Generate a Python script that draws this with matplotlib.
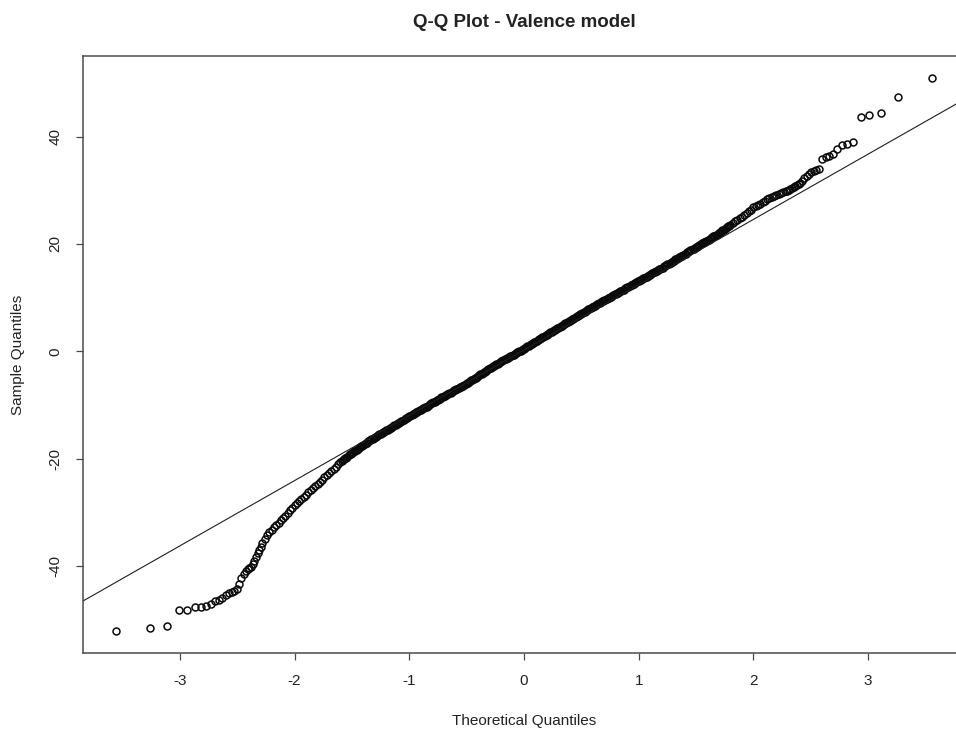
import matplotlib.pyplot as plt

plt.rcParams['font.family'] = ['Liberation Sans', 'DejaVu Sans']
plt.rcParams['axes.unicode_minus'] = False

# lower tail of the residuals (theoretical quantile, sample quantile)
lower_theo = [-3.56, -3.26, -3.11, -3.01, -2.935, -2.87, -2.82, -2.77, -2.73, -2.695,
              -2.66, -2.63, -2.60, -2.576, -2.55, -2.53, -2.505, -2.485, -2.465, -2.445,
              -2.425, -2.41, -2.395, -2.38, -2.365, -2.35, -2.335, -2.32, -2.31, -2.295,
              -2.28, -2.26, -2.24, -2.22, -2.20, -2.18, -2.16, -2.14, -2.12, -2.10,
              -2.08, -2.06, -2.04, -2.02, -2.00, -1.98, -1.96, -1.94, -1.92, -1.90,
              -1.88, -1.86, -1.84, -1.82, -1.80, -1.78, -1.76, -1.74, -1.72, -1.70,
              -1.68, -1.66, -1.64, -1.62]
lower_sample = [-52.1, -51.5, -51.2, -48.1, -48.2, -47.7, -47.6, -47.4, -47.0, -46.6,
                -46.4, -45.9, -45.4, -45.0, -44.8, -44.6, -44.3, -43.3, -42.3, -41.5,
                -41.0, -40.6, -40.4, -40.1, -39.6, -39.0, -38.3, -37.6, -37.0, -36.5,
                -35.8, -35.0, -34.3, -33.7, -33.2, -32.8, -32.3, -31.9, -31.4, -31.0,
                -30.6, -30.1, -29.6, -29.1, -28.7, -28.3, -27.9, -27.5, -27.1, -26.7,
                -26.3, -25.9, -25.5, -25.1, -24.7, -24.3, -23.9, -23.5, -23.1, -22.7,
                -22.3, -21.9, -21.5, -21.0]

# dense central part
middle_theo = [
    -1.60, -1.59, -1.58, -1.57, -1.56, -1.55, -1.54, -1.53, -1.52, -1.51,
    -1.50, -1.49, -1.48, -1.47, -1.46, -1.45, -1.44, -1.43, -1.42, -1.41,
    -1.40, -1.39, -1.38, -1.37, -1.36, -1.35, -1.34, -1.33, -1.32, -1.31,
    -1.30, -1.29, -1.28, -1.27, -1.26, -1.25, -1.24, -1.23, -1.22, -1.21,
    -1.20, -1.19, -1.18, -1.17, -1.16, -1.15, -1.14, -1.13, -1.12, -1.11,
    -1.10, -1.09, -1.08, -1.07, -1.06, -1.05, -1.04, -1.03, -1.02, -1.01,
    -1.00, -0.99, -0.98, -0.97, -0.96, -0.95, -0.94, -0.93, -0.92, -0.91,
    -0.90, -0.89, -0.88, -0.87, -0.86, -0.85, -0.84, -0.83, -0.82, -0.81,
    -0.80, -0.79, -0.78, -0.77, -0.76, -0.75, -0.74, -0.73, -0.72, -0.71,
    -0.70, -0.69, -0.68, -0.67, -0.66, -0.65, -0.64, -0.63, -0.62, -0.61,
    -0.60, -0.59, -0.58, -0.57, -0.56, -0.55, -0.54, -0.53, -0.52, -0.51,
    -0.50, -0.49, -0.48, -0.47, -0.46, -0.45, -0.44, -0.43, -0.42, -0.41,
    -0.40, -0.39, -0.38, -0.37, -0.36, -0.35, -0.34, -0.33, -0.32, -0.31,
    -0.30, -0.29, -0.28, -0.27, -0.26, -0.25, -0.24, -0.23, -0.22, -0.21,
    -0.20, -0.19, -0.18, -0.17, -0.16, -0.15, -0.14, -0.13, -0.12, -0.11,
    -0.10, -0.09, -0.08, -0.07, -0.06, -0.05, -0.04, -0.03, -0.02, -0.01,
    0.00, 0.01, 0.02, 0.03, 0.04, 0.05, 0.06, 0.07, 0.08, 0.09,
    0.10, 0.11, 0.12, 0.13, 0.14, 0.15, 0.16, 0.17, 0.18, 0.19,
    0.20, 0.21, 0.22, 0.23, 0.24, 0.25, 0.26, 0.27, 0.28, 0.29,
    0.30, 0.31, 0.32, 0.33, 0.34, 0.35, 0.36, 0.37, 0.38, 0.39,
    0.40, 0.41, 0.42, 0.43, 0.44, 0.45, 0.46, 0.47, 0.48, 0.49,
    0.50, 0.51, 0.52, 0.53, 0.54, 0.55, 0.56, 0.57, 0.58, 0.59,
    0.60, 0.61, 0.62, 0.63, 0.64, 0.65, 0.66, 0.67, 0.68, 0.69,
    0.70, 0.71, 0.72, 0.73, 0.74, 0.75, 0.76, 0.77, 0.78, 0.79,
    0.80, 0.81, 0.82, 0.83, 0.84, 0.85, 0.86, 0.87, 0.88, 0.89,
    0.90, 0.91, 0.92, 0.93, 0.94, 0.95, 0.96, 0.97, 0.98, 0.99,
    1.00, 1.01, 1.02, 1.03, 1.04, 1.05, 1.06, 1.07, 1.08, 1.09,
    1.10, 1.11, 1.12, 1.13, 1.14, 1.15, 1.16, 1.17, 1.18, 1.19,
    1.20, 1.21, 1.22, 1.23, 1.24, 1.25, 1.26, 1.27, 1.28, 1.29,
    1.30, 1.31, 1.32, 1.33, 1.34, 1.35, 1.36, 1.37, 1.38, 1.39,
    1.40, 1.41, 1.42, 1.43, 1.44, 1.45, 1.46, 1.47, 1.48, 1.49,
    1.50, 1.51, 1.52, 1.53, 1.54, 1.55, 1.56, 1.57, 1.58, 1.59,
    1.60, 1.61, 1.62, 1.63, 1.64, 1.65, 1.66, 1.67, 1.68, 1.69,
    1.70, 1.71, 1.72, 1.73, 1.74, 1.75, 1.76, 1.77, 1.78, 1.79,
    1.80]
middle_sample = [
    -20.6, -20.4, -20.3, -20.1, -19.9, -19.8, -19.6, -19.4, -19.2, -19.1,
    -18.9, -18.8, -18.6, -18.5, -18.3, -18.2, -18.0, -17.9, -17.7, -17.6,
    -17.4, -17.3, -17.1, -17.0, -16.8, -16.7, -16.6, -16.4, -16.3, -16.1,
    -16.0, -15.9, -15.7, -15.6, -15.5, -15.4, -15.2, -15.1, -15.0, -14.8,
    -14.7, -14.6, -14.4, -14.3, -14.2, -14.1, -13.9, -13.8, -13.7, -13.5,
    -13.4, -13.3, -13.1, -13.0, -12.9, -12.8, -12.6, -12.5, -12.4, -12.2,
    -12.1, -12.0, -11.9, -11.7, -11.6, -11.5, -11.4, -11.3, -11.1, -11.0,
    -10.9, -10.8, -10.6, -10.5, -10.4, -10.3, -10.1, -10.0, -9.9, -9.7,
    -9.6, -9.5, -9.4, -9.2, -9.1, -9.0, -8.9, -8.8, -8.6, -8.5,
    -8.4, -8.3, -8.2, -8.0, -7.9, -7.8, -7.7, -7.6, -7.4, -7.3,
    -7.2, -7.1, -7.0, -6.8, -6.7, -6.6, -6.5, -6.4, -6.2, -6.1,
    -6.0, -5.9, -5.7, -5.6, -5.4, -5.3, -5.2, -5.0, -4.9, -4.7,
    -4.6, -4.5, -4.3, -4.2, -4.0, -3.9, -3.8, -3.6, -3.5, -3.3,
    -3.2, -3.1, -2.9, -2.8, -2.7, -2.6, -2.4, -2.3, -2.2, -2.0,
    -1.9, -1.8, -1.7, -1.5, -1.4, -1.3, -1.2, -1.1, -0.9, -0.8,
    -0.7, -0.6, -0.5, -0.3, -0.2, -0.1, 0.0, 0.1, 0.3, 0.4,
    0.5, 0.6, 0.8, 0.9, 1.0, 1.2, 1.3, 1.4, 1.5, 1.7,
    1.8, 1.9, 2.1, 2.2, 2.3, 2.5, 2.6, 2.7, 2.8, 3.0,
    3.1, 3.2, 3.4, 3.5, 3.6, 3.8, 3.9, 4.0, 4.1, 4.3,
    4.4, 4.5, 4.7, 4.8, 4.9, 5.1, 5.2, 5.3, 5.4, 5.6,
    5.7, 5.8, 6.0, 6.1, 6.2, 6.4, 6.5, 6.6, 6.7, 6.9,
    7.0, 7.1, 7.3, 7.4, 7.5, 7.7, 7.8, 7.9, 8.0, 8.2,
    8.3, 8.4, 8.5, 8.7, 8.8, 8.9, 9.0, 9.1, 9.3, 9.4,
    9.5, 9.6, 9.7, 9.9, 10.0, 10.1, 10.2, 10.3, 10.5, 10.6,
    10.7, 10.8, 10.9, 11.1, 11.2, 11.3, 11.4, 11.5, 11.7, 11.8,
    11.9, 12.0, 12.1, 12.3, 12.4, 12.5, 12.6, 12.7, 12.9, 13.0,
    13.1, 13.2, 13.3, 13.5, 13.6, 13.7, 13.8, 13.9, 14.1, 14.2,
    14.3, 14.4, 14.5, 14.7, 14.8, 14.9, 15.0, 15.1, 15.3, 15.4,
    15.5, 15.6, 15.8, 15.9, 16.0, 16.2, 16.3, 16.4, 16.5, 16.7,
    16.8, 16.9, 17.1, 17.2, 17.3, 17.5, 17.6, 17.7, 17.8, 18.0,
    18.1, 18.2, 18.4, 18.5, 18.6, 18.8, 18.9, 19.0, 19.1, 19.3,
    19.4, 19.5, 19.7, 19.8, 19.9, 20.1, 20.2, 20.3, 20.4, 20.6,
    20.7, 20.8, 21.0, 21.1, 21.2, 21.4, 21.5, 21.6, 21.7, 21.9,
    22.0, 22.2, 22.3, 22.5, 22.6, 22.8, 23.0, 23.1, 23.3, 23.4,
    23.6]

# upper tail
upper_theo = [1.82, 1.84, 1.86, 1.88, 1.90, 1.92, 1.94, 1.96, 1.98, 2.00,
              2.02, 2.04, 2.06, 2.08, 2.10, 2.12, 2.14, 2.16, 2.18, 2.20,
              2.22, 2.24, 2.26, 2.28, 2.295, 2.31, 2.32, 2.335, 2.35, 2.365,
              2.38, 2.395, 2.41, 2.425, 2.445, 2.465, 2.485, 2.505, 2.53, 2.55,
              2.576, 2.60, 2.63, 2.66, 2.695, 2.73, 2.77, 2.82, 2.87, 2.935,
              3.01, 3.11, 3.26, 3.56]
upper_sample = [23.9, 24.2, 24.5, 24.8, 25.1, 25.4, 25.8, 26.1, 26.4, 26.8,
                27.0, 27.2, 27.5, 27.8, 28.0, 28.3, 28.5, 28.7, 28.9, 29.1,
                29.3, 29.5, 29.6, 29.8, 29.9, 30.1, 30.3, 30.4, 30.6, 30.8,
                30.9, 31.1, 31.4, 31.8, 32.2, 32.7, 33.1, 33.4, 33.6, 33.8,
                34.0, 35.8, 36.1, 36.4, 36.8, 37.7, 38.4, 38.7, 38.9, 43.7,
                44.0, 44.3, 47.4, 50.9]

# reference line through the quartiles
line_intercept = 0.24
line_slope = 12.16

theo = lower_theo + middle_theo + upper_theo
sample = lower_sample + middle_sample + upper_sample

fig = plt.figure(figsize=(9.56, 7.30), dpi=100)
# right edge of the box falls just outside the canvas
ax = fig.add_axes([83 / 956, 77 / 730, 882 / 956, 597 / 730])

ax.plot(theo, sample, linestyle='none', marker='o', markersize=5.0,
        markerfacecolor='none', markeredgecolor='#0a0a0a', markeredgewidth=1.1)
ax.axline((0, line_intercept), slope=line_slope, color='#1e1e1e', linewidth=0.8)

ax.set_xlim(-3.845, 3.845)
ax.set_ylim(-56.2, 55.0)
ax.set_xticks([-3, -2, -1, 0, 1, 2, 3])
ax.set_yticks([-40, -20, 0, 20, 40])

for s in ax.spines.values():
    s.set_color('#4a4a4a')
    s.set_linewidth(1.1)

ax.tick_params(direction='out', length=5, width=0.9, color='#4a4a4a',
               labelsize=11, labelcolor='#222222', pad=10)
for lab in ax.get_yticklabels():
    lab.set_rotation(90)
    lab.set_va('center')

ax.set_xlabel('Theoretical Quantiles', fontsize=11, color='#222222', labelpad=19)
ax.set_ylabel('Sample Quantiles', fontsize=11, color='#222222', labelpad=17)
ax.set_title('Q-Q Plot - Valence model', fontsize=13.5, fontweight='bold',
             color='#222222', pad=21)

fig.savefig('out.png', dpi=100)
